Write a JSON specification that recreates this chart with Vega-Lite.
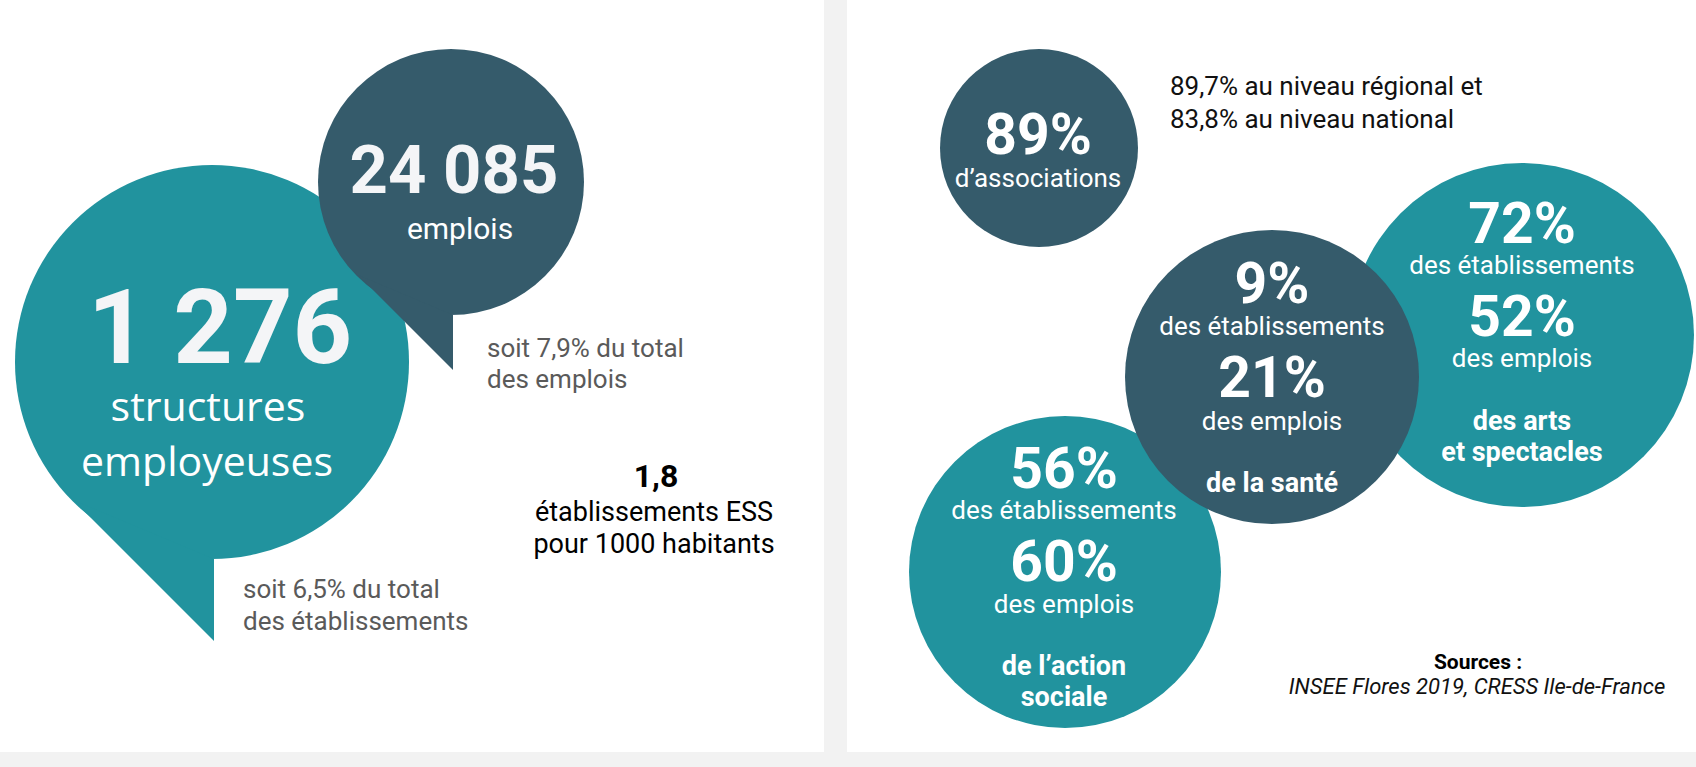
{
  "$schema": "https://vega.github.io/schema/vega-lite/v6.json",
  "width": 1696,
  "height": 767,
  "autosize": {"type": "fit", "contains": "padding"},
  "padding": 0,
  "background": "#f2f2f2",
  "config": {"view": {"stroke": null}},
  "datasets": {
    "panels": [
      {"panel": "left", "x0": 0, "x1": 824, "y0": 0, "y1": 752},
      {"panel": "right", "x0": 847, "x1": 1696, "y0": 0, "y1": 752}
    ],
    "bubbles": [
      {"id": "structures", "group": "teal", "x": 212, "y": 362, "r": 197},
      {"id": "arts", "group": "teal", "x": 1522, "y": 335, "r": 172},
      {"id": "action", "group": "teal", "x": 1065, "y": 572, "r": 156},
      {"id": "emplois", "group": "dark", "x": 451, "y": 182, "r": 133},
      {"id": "associations", "group": "dark", "x": 1039, "y": 148, "r": 99},
      {"id": "sante", "group": "dark", "x": 1272, "y": 377, "r": 147}
    ],
    "tails": [
      {"id": "structures", "group": "teal", "x": 73, "y": 500, "y2": 500},
      {"id": "structures", "group": "teal", "x": 214, "y": 641, "y2": 559},
      {"id": "emplois", "group": "dark", "x": 358, "y": 275, "y2": 275},
      {"id": "emplois", "group": "dark", "x": 453, "y": 370, "y2": 315}
    ],
    "texts": [
      {"t": "24 085", "x": 454, "y": 193, "role": "num24"},
      {"t": "emplois", "x": 460, "y": 239, "role": "emplois"},
      {"t": "1 276", "x": 220, "y": 363, "role": "num1276"},
      {"t": "structures", "x": 208, "y": 421, "role": "struct"},
      {"t": "employeuses", "x": 207, "y": 476, "role": "struct"},
      {"t": "soit 7,9% du total", "x": 487, "y": 357, "role": "note"},
      {"t": "des emplois", "x": 487, "y": 388, "role": "note"},
      {"t": "soit 6,5% du total", "x": 243, "y": 598, "role": "note"},
      {"t": "des établissements", "x": 243, "y": 630, "role": "note"},
      {"t": "1,8", "x": 656, "y": 487, "role": "ratio"},
      {"t": "établissements ESS", "x": 654, "y": 521, "role": "ratioLabel"},
      {"t": "pour 1000 habitants", "x": 654, "y": 553, "role": "ratioLabel"},
      {"t": "89%", "x": 1038, "y": 154, "role": "pct"},
      {"t": "d’associations", "x": 1038, "y": 187, "role": "clabel"},
      {"t": "89,7% au niveau régional et", "x": 1170, "y": 95, "role": "comp"},
      {"t": "83,8% au niveau national", "x": 1170, "y": 128, "role": "comp"},
      {"t": "72%", "x": 1522, "y": 243, "role": "pct"},
      {"t": "des établissements", "x": 1522, "y": 274, "role": "clabel"},
      {"t": "52%", "x": 1522, "y": 336, "role": "pct"},
      {"t": "des emplois", "x": 1522, "y": 367, "role": "clabel"},
      {"t": "des arts", "x": 1522, "y": 430, "role": "sector"},
      {"t": "et spectacles", "x": 1522, "y": 461, "role": "sector"},
      {"t": "9%", "x": 1272, "y": 303, "role": "pct"},
      {"t": "des établissements", "x": 1272, "y": 335, "role": "clabel"},
      {"t": "21%", "x": 1272, "y": 397, "role": "pct"},
      {"t": "des emplois", "x": 1272, "y": 430, "role": "clabel"},
      {"t": "de la santé", "x": 1272, "y": 492, "role": "sector"},
      {"t": "56%", "x": 1064, "y": 488, "role": "pct"},
      {"t": "des établissements", "x": 1064, "y": 519, "role": "clabel"},
      {"t": "60%", "x": 1064, "y": 581, "role": "pct"},
      {"t": "des emplois", "x": 1064, "y": 613, "role": "clabel"},
      {"t": "de l’action", "x": 1064, "y": 675, "role": "sector"},
      {"t": "sociale", "x": 1064, "y": 706, "role": "sector"},
      {"t": "Sources :", "x": 1478, "y": 669, "role": "src1"},
      {"t": "INSEE Flores 2019, CRESS Ile-de-France", "x": 1477, "y": 694, "role": "src2"}
    ]
  },
  "encoding": {
    "x": {"field": "x", "type": "quantitative", "scale": {"domain": [0, 1696], "nice": false, "zero": false}, "axis": null},
    "y": {"field": "y", "type": "quantitative", "scale": {"domain": [0, 767], "reverse": true, "nice": false, "zero": false}, "axis": null}
  },
  "layer": [
    {
      "data": {"name": "panels"},
      "mark": {"type": "rect", "color": "#ffffff"},
      "encoding": {
        "x": {"field": "x0", "type": "quantitative"},
        "x2": {"field": "x1"},
        "y": {"field": "y0", "type": "quantitative"},
        "y2": {"field": "y1"}
      }
    },
    {
      "data": {"name": "bubbles"},
      "mark": {"type": "point", "shape": "circle", "filled": true, "opacity": 1, "strokeWidth": 0},
      "encoding": {
        "size": {"field": "r", "type": "quantitative", "scale": {"type": "pow", "exponent": 2, "domain": [0, 100], "range": [0, 40000]}, "legend": null},
        "color": {"field": "group", "type": "nominal", "scale": {"domain": ["teal", "dark"], "range": ["#21939e", "#355b6b"]}, "legend": null}
      }
    },
    {
      "data": {"name": "tails"},
      "mark": {"type": "area", "interpolate": "linear", "opacity": 1},
      "encoding": {
        "y2": {"field": "y2"},
        "detail": {"field": "id", "type": "nominal"},
        "color": {"field": "group", "type": "nominal", "legend": null}
      }
    },
    {
      "data": {"name": "texts"},
      "transform": [{"filter": "datum.role === 'num24'"}],
      "mark": {"type": "text", "font": "Roboto", "fontWeight": "bold", "fontSize": 67, "color": "#f4f5f7", "align": "center", "baseline": "alphabetic"},
      "encoding": {"text": {"field": "t"}}
    },
    {
      "data": {"name": "texts"},
      "transform": [{"filter": "datum.role === 'emplois'"}],
      "mark": {"type": "text", "font": "Roboto", "fontSize": 30, "color": "#ffffff", "align": "center", "baseline": "alphabetic"},
      "encoding": {"text": {"field": "t"}}
    },
    {
      "data": {"name": "texts"},
      "transform": [{"filter": "datum.role === 'num1276'"}],
      "mark": {"type": "text", "font": "Roboto", "fontWeight": "bold", "fontSize": 104, "color": "#f4f5f7", "align": "center", "baseline": "alphabetic"},
      "encoding": {"text": {"field": "t"}}
    },
    {
      "data": {"name": "texts"},
      "transform": [{"filter": "datum.role === 'struct'"}],
      "mark": {"type": "text", "font": "Open Sans", "fontSize": 41, "color": "#ffffff", "align": "center", "baseline": "alphabetic"},
      "encoding": {"text": {"field": "t"}}
    },
    {
      "data": {"name": "texts"},
      "transform": [{"filter": "datum.role === 'note'"}],
      "mark": {"type": "text", "font": "Roboto", "fontSize": 26, "color": "#5a5a5a", "align": "left", "baseline": "alphabetic"},
      "encoding": {"text": {"field": "t"}}
    },
    {
      "data": {"name": "texts"},
      "transform": [{"filter": "datum.role === 'ratio'"}],
      "mark": {"type": "text", "font": "Roboto", "fontWeight": "bold", "fontSize": 32, "color": "#000000", "align": "center", "baseline": "alphabetic"},
      "encoding": {"text": {"field": "t"}}
    },
    {
      "data": {"name": "texts"},
      "transform": [{"filter": "datum.role === 'ratioLabel'"}],
      "mark": {"type": "text", "font": "Roboto", "fontSize": 27, "color": "#000000", "align": "center", "baseline": "alphabetic"},
      "encoding": {"text": {"field": "t"}}
    },
    {
      "data": {"name": "texts"},
      "transform": [{"filter": "datum.role === 'pct'"}],
      "mark": {"type": "text", "font": "Roboto", "fontWeight": "bold", "fontSize": 57, "color": "#ffffff", "align": "center", "baseline": "alphabetic"},
      "encoding": {"text": {"field": "t"}}
    },
    {
      "data": {"name": "texts"},
      "transform": [{"filter": "datum.role === 'clabel'"}],
      "mark": {"type": "text", "font": "Roboto", "fontSize": 26, "color": "#ffffff", "align": "center", "baseline": "alphabetic"},
      "encoding": {"text": {"field": "t"}}
    },
    {
      "data": {"name": "texts"},
      "transform": [{"filter": "datum.role === 'sector'"}],
      "mark": {"type": "text", "font": "Roboto", "fontWeight": "bold", "fontSize": 27, "color": "#ffffff", "align": "center", "baseline": "alphabetic"},
      "encoding": {"text": {"field": "t"}}
    },
    {
      "data": {"name": "texts"},
      "transform": [{"filter": "datum.role === 'comp'"}],
      "mark": {"type": "text", "font": "Roboto", "fontSize": 26, "color": "#111111", "align": "left", "baseline": "alphabetic"},
      "encoding": {"text": {"field": "t"}}
    },
    {
      "data": {"name": "texts"},
      "transform": [{"filter": "datum.role === 'src1'"}],
      "mark": {"type": "text", "font": "Roboto", "fontWeight": "bold", "fontSize": 21, "color": "#000000", "align": "center", "baseline": "alphabetic"},
      "encoding": {"text": {"field": "t"}}
    },
    {
      "data": {"name": "texts"},
      "transform": [{"filter": "datum.role === 'src2'"}],
      "mark": {"type": "text", "font": "Roboto", "fontStyle": "italic", "fontSize": 22, "color": "#111111", "align": "center", "baseline": "alphabetic"},
      "encoding": {"text": {"field": "t"}}
    }
  ]
}
